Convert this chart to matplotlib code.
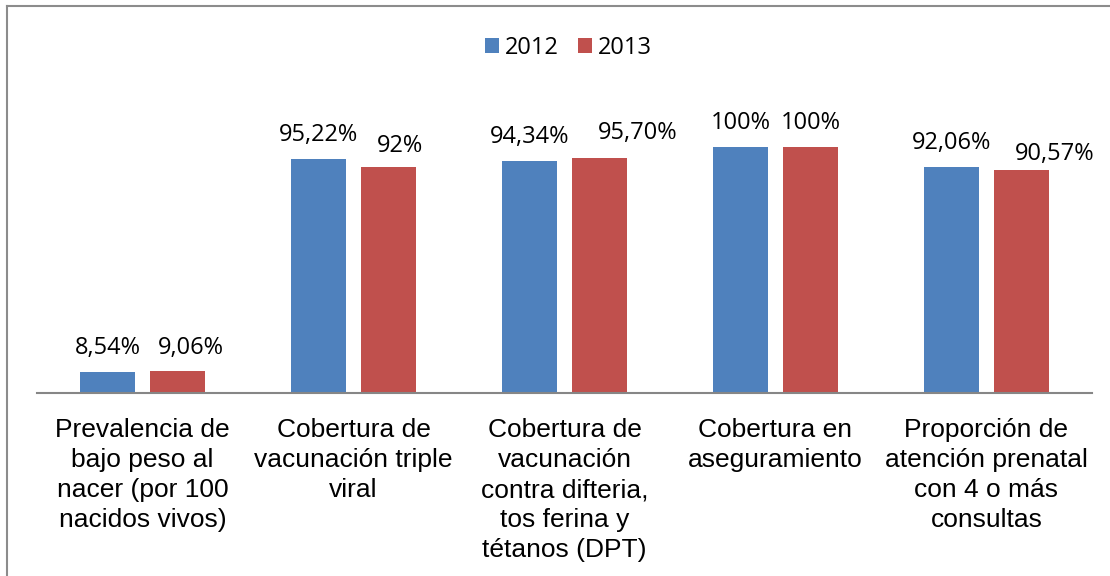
import matplotlib.pyplot as plt
import numpy as np
from matplotlib.lines import Line2D

categorias = ['Prevalencia de\nbajo peso al\nnacer (por 100\nnacidos vivos)',
              'Cobertura de\nvacunación triple\nviral',
              'Cobertura de\nvacunación\ncontra difteria,\ntos ferina y\ntétanos (DPT)',
              'Cobertura en\naseguramiento',
              'Proporción de\natención prenatal\ncon 4 o más\nconsultas']
v2012 = [8.54, 95.22, 94.34, 100, 92.06]
v2013 = [9.06, 92, 95.70, 100, 90.57]
et2012 = ['8,54%', '95,22%', '94,34%', '100%', '92,06%']
et2013 = ['9,06%', '92%', '95,70%', '100%', '90,57%']

azul = '#4F81BD'
rojo = '#C0504D'

# desplazamiento manual (px) de las etiquetas 2013, como en el original
dx13 = [13, 11, 38, 0, 33]
dy13 = [11, 9, 13, 12, 4]

W, H = 1110, 576
fig = plt.figure(figsize=(W / 100, H / 100), dpi=100)
ax = fig.add_axes([37 / W, 183 / H, 1055 / W, 295 / H])

x = np.arange(len(categorias))
off = 0.166
ancho = 0.265
ax.bar(x - off, v2012, ancho, color=azul, label='2012')
ax.bar(x + off, v2013, ancho, color=rojo, label='2013')

fuente = {'family': 'Open Sans', 'size': 17}
for i in range(len(x)):
    ax.annotate(et2012[i], (x[i] - off, v2012[i]), xytext=(0, 12),
                textcoords='offset pixels', ha='center', va='bottom', **fuente)
    ax.annotate(et2013[i], (x[i] + off, v2013[i]), xytext=(dx13[i], dy13[i]),
                textcoords='offset pixels', ha='center', va='bottom', **fuente)
    ax.text(x[i], -10.3, categorias[i], ha='center', va='top', fontsize=19,
            family='Liberation Sans', linespacing=1.31)

ax.set_xlim(-0.5, 4.5)
ax.set_ylim(0, 120)
ax.set_xticks([])
ax.set_yticks([])
for s in ['top', 'right', 'left']:
    ax.spines[s].set_visible(False)
ax.spines['bottom'].set_color('#868686')
ax.spines['bottom'].set_linewidth(1.5)

ax.legend(loc='center', bbox_to_anchor=(0.5 + 4 / 1055, 1.17), ncol=2, frameon=False,
          prop={'family': 'Open Sans', 'size': 17}, handlelength=0.6,
          handleheight=0.6, handletextpad=0.25, columnspacing=0.8)

# marco del gráfico
fig.add_artist(Line2D([7 / W, 7 / W], [0, 1 - 6 / H], color='#8c8c8c', lw=1.5))
fig.add_artist(Line2D([7 / W, 1], [1 - 6 / H, 1 - 6 / H], color='#8c8c8c', lw=1.5))

fig.savefig('out.png', dpi=100)
